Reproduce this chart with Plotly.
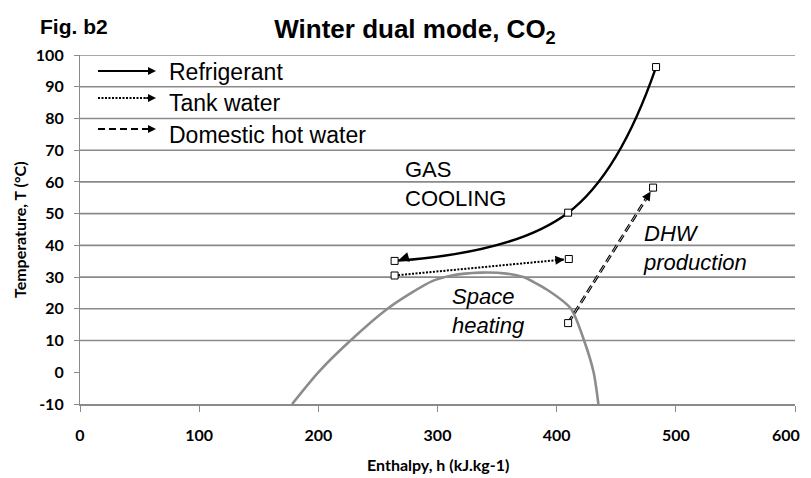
import math
import plotly.graph_objects as go

# ---------------- data ----------------
dome_h = [178, 200, 227, 258, 278, 296, 312, 336, 358, 372, 392, 412, 423, 431, 435]
dome_T = [-10, 0, 10, 20, 25, 28.8, 30.5, 31.4, 31.1, 30, 26, 20, 10, 0, -10]

ref_h = [483.4, 409.6, 264.0]
ref_T = [96.2, 50.3, 35.1]

tank_h = [264.0, 410.2]
tank_T = [30.5, 35.7]

dhw_h = [409.6, 480.9]
dhw_T = [15.5, 58.2]

x_ticks = [0, 100, 200, 300, 400, 500, 600]
y_ticks = [-10, 0, 10, 20, 30, 40, 50, 60, 70, 80, 90, 100]
grid_T = [10, 20, 30, 40, 50, 60, 70, 80, 90, 100]   # no line at 0 in the reference

legend_names = ["Refrigerant", "Tank water", "Domestic hot water"]

# ---------------- layout constants ----------------
# the html page adds an 8px body margin, so the figure is laid out in
# screen pixels minus that offset
OFF = 8
SW, SH = 811, 478                   # screen size
W, H = SW, SH                       # figure size (right/bottom overflow is clipped)
PL, PR, PT, PB = 80, 795, 55, 404   # plot box in screen pixels
ML, MR, MT, MB = PL - OFF, W - (PR - OFF), PT - OFF, H - (PB - OFF)
PW, PH = W - ML - MR, H - MT - MB
XR, YR = [0, 600], [-10, 100]
SX = PW / (XR[1] - XR[0])
SY = PH / (YR[1] - YR[0])

GRID = "#8a8a8a"
TXT = "Liberation Sans, Arial, sans-serif"
TICKF = "Lato, Open Sans, sans-serif"


def pxx(p):
    return (p - OFF - ML) / PW


def pxy(p):
    return (H - MB - (p - OFF)) / PH


# the last x label would be clipped by the page edge: draw it as an annotation nudged left
x_text = [str(v) for v in x_ticks]
last_label = x_text[-1]
x_text[-1] = ""

fig = go.Figure()

# saturation dome
fig.add_trace(go.Scatter(x=dome_h, y=dome_T, mode="lines",
                         line=dict(color="#8c8c8c", width=2.6, shape="spline", smoothing=0.7),
                         hoverinfo="skip", showlegend=False))

mk = dict(symbol="square", size=7, color="white", line=dict(color="black", width=1))

# refrigerant
fig.add_trace(go.Scatter(x=ref_h, y=ref_T, mode="lines+markers", name=legend_names[0],
                         line=dict(color="black", width=2.4, shape="spline", smoothing=1.2),
                         marker=mk, showlegend=False))
# tank water
fig.add_trace(go.Scatter(x=tank_h, y=tank_T, mode="lines+markers", name=legend_names[1],
                         line=dict(color="black", width=2, dash="2px,1.5px"),
                         marker=mk, showlegend=False))
# domestic hot water (double dashed look)
fig.add_trace(go.Scatter(x=dhw_h, y=dhw_T, mode="lines", name=legend_names[2],
                         line=dict(color="black", width=2.8, dash="8px,4px"),
                         showlegend=False, hoverinfo="skip"))
fig.add_trace(go.Scatter(x=dhw_h, y=dhw_T, mode="lines+markers", name=legend_names[2],
                         line=dict(color="white", width=0.7, dash="8px,4px"),
                         marker=mk, showlegend=False))

# gridlines
shapes = []
for t in grid_T:
    shapes.append(dict(type="line", xref="paper", x0=0, x1=1, yref="y", y0=t, y1=t,
                       line=dict(color=GRID, width=1.6), layer="below"))

annotations = []


def end_arrow(hs, ts, width):
    dx = (hs[-1] - hs[-2]) * SX
    dy = -(ts[-1] - ts[-2]) * SY
    n = math.hypot(dx, dy)
    L = 15
    return dict(x=hs[-1], y=ts[-1], xref="x", yref="y", text="", showarrow=True,
                ax=-dx / n * L, ay=-dy / n * L, arrowhead=2, arrowsize=1.0,
                arrowwidth=width, arrowcolor="black", standoff=4.5)


annotations.append(end_arrow(ref_h, ref_T, 2))
annotations.append(end_arrow(tank_h, tank_T, 1.8))
annotations.append(end_arrow(dhw_h, dhw_T, 1.8))

# custom legend (lines with arrows + texts), positions in screen pixels
leg_rows = [(71, 72, None, 2.2), (98, 103, "2px,1.5px", 1.8), (129, 134.5, "7px,4px", 1.8)]
for name, (ly, ty, dash, w) in zip(legend_names, leg_rows):
    ln = dict(color="black", width=w)
    if dash:
        ln["dash"] = dash
    shapes.append(dict(type="line", xref="paper", yref="paper", x0=pxx(98), x1=pxx(148),
                       y0=pxy(ly), y1=pxy(ly), line=ln))
    annotations.append(dict(x=pxx(156), y=pxy(ly), xref="paper", yref="paper", text="",
                            showarrow=True, ax=-12, ay=0, arrowhead=2, arrowsize=1,
                            arrowwidth=1.6, arrowcolor="black"))
    annotations.append(dict(x=pxx(167), y=pxy(ty), xref="paper", yref="paper", text=name,
                            showarrow=False, xanchor="left", yanchor="middle",
                            font=dict(family=TXT, size=23, color="black")))

# chart text labels
annotations.append(dict(x=271, y=59.2, xref="x", yref="y", text="GAS<br>COOLING",
                        showarrow=False, xanchor="left", yanchor="middle", align="left",
                        font=dict(family=TXT, size=22, color="black")))
annotations.append(dict(x=310.5, y=19.2, xref="x", yref="y", text="<i>Space</i><br><i>heating</i>",
                        showarrow=False, xanchor="left", yanchor="middle", align="left",
                        font=dict(family=TXT, size=22, color="black")))
annotations.append(dict(x=471, y=39.3, xref="x", yref="y", text="<i>DHW</i><br><i>production</i>",
                        showarrow=False, xanchor="left", yanchor="middle", align="left",
                        font=dict(family=TXT, size=22, color="black")))
annotations.append(dict(x=pxx(74), y=pxy(27), xref="paper", yref="paper", text="<b>Fig. b2</b>",
                        showarrow=False, xanchor="center", yanchor="middle",
                        font=dict(family=TXT, size=21, color="black")))
# last x tick label
annotations.append(dict(x=x_ticks[-1], y=pxy(434), xref="x", yref="paper", text=last_label,
                        showarrow=False, xanchor="right", yanchor="middle", xshift=7,
                        font=dict(family=TICKF, size=16, color="black", weight="bold")))
# axis titles
annotations.append(dict(x=pxx(19), y=pxy(229), xref="paper", yref="paper",
                        text="<b>Temperature, T (°C)</b>", textangle=-90, showarrow=False,
                        xanchor="center", yanchor="middle",
                        font=dict(family=TICKF, size=16, color="black")))
annotations.append(dict(x=0.5, y=pxy(464), xref="paper", yref="paper",
                        text="<b>Enthalpy, h (kJ.kg-1)</b>", showarrow=False,
                        xanchor="center", yanchor="middle",
                        font=dict(family=TICKF, size=16, color="black")))

fig.update_layout(
    width=W, height=H,
    margin=dict(l=ML, r=MR, t=MT, b=MB, pad=0),
    paper_bgcolor="white", plot_bgcolor="white",
    title=dict(text="<b>Winter dual mode, CO<sub>2</sub></b>", x=(415 - OFF) / W, xanchor="center",
               y=1 - (29 - OFF) / H, yanchor="middle",
               font=dict(family=TXT, size=26, color="black")),
    xaxis=dict(range=XR, tickvals=x_ticks, ticktext=x_text,
               automargin=False,
               showgrid=False, zeroline=False, showline=True, linecolor=GRID, linewidth=1.6,
               ticks="outside", ticklen=6, tickcolor=GRID, tickwidth=1,
               ticklabelstandoff=10,
               tickfont=dict(family=TICKF, size=16, color="black", weight="bold")),
    yaxis=dict(range=YR, tickvals=y_ticks, ticktext=[str(v) for v in y_ticks],
               automargin=False,
               showgrid=False, zeroline=False, showline=True, linecolor=GRID, linewidth=1.2,
               ticks="outside", ticklen=5, tickcolor=GRID, tickwidth=1,
               ticklabelstandoff=7,
               tickfont=dict(family=TICKF, size=16, color="black", weight="bold")),
    shapes=shapes,
    annotations=annotations,
    showlegend=False,
)

fig.write_html("out.html")
